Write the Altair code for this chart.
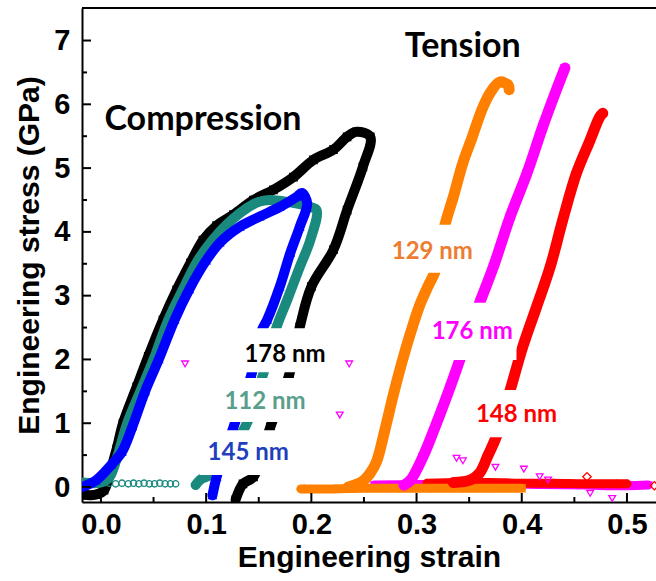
import altair as alt
import pandas as pd

# ---------------- data ----------------
# Compression, 178 nm (black squares)
black_x = [-0.018, -0.005, 0.003, 0.008, 0.015, 0.021, 0.034, 0.045, 0.059, 0.072, 0.085, 0.097,
           0.110, 0.126, 0.145, 0.164, 0.183, 0.202, 0.221, 0.234, 0.243, 0.256, 0.249, 0.234,
           0.221, 0.200, 0.189, 0.179, 0.161, 0.145, 0.135, 0.128]
black_y = [-0.12, -0.12, -0.05, 0.20, 0.60, 1.00, 1.57, 2.05, 2.62, 3.09, 3.51, 3.87,
           4.10, 4.27, 4.50, 4.66, 4.86, 5.13, 5.29, 5.49, 5.57, 5.49, 5.02, 4.34,
           3.72, 3.14, 2.51, 1.76, 0.94, 0.16, 0.05, -0.20]
# Compression, 112 nm (teal circles)
teal_x = [-0.018, 0.000, 0.008, 0.016, 0.025, 0.040, 0.050, 0.064, 0.078, 0.092, 0.106, 0.120,
          0.135, 0.150, 0.160, 0.177, 0.199, 0.205, 0.199, 0.189, 0.177, 0.167, 0.154, 0.137,
          0.105, 0.095, 0.090]
teal_y = [0.07, 0.07, 0.15, 0.50, 1.00, 1.60, 2.00, 2.62, 3.10, 3.55, 3.87, 4.12,
          4.33, 4.47, 4.50, 4.47, 4.39, 4.34, 3.87, 3.45, 2.93, 2.51, 1.76, 0.94,
          0.20, 0.12, 0.03]
teal_tail_x = [0.008, 0.014, 0.020, 0.026, 0.031, 0.036, 0.041, 0.046, 0.051, 0.056, 0.061, 0.066, 0.071]
teal_tail_y = [0.06, 0.05, 0.06, 0.05, 0.06, 0.05, 0.06, 0.05, 0.05, 0.06, 0.05, 0.05, 0.05]
# Compression, 145 nm (blue triangles)
blue_x = [-0.018, -0.005, 0.010, 0.020, 0.030, 0.042, 0.055, 0.070, 0.084, 0.100, 0.113, 0.132,
          0.151, 0.170, 0.186, 0.191, 0.196, 0.189, 0.180, 0.170, 0.158, 0.153, 0.143, 0.126,
          0.110, 0.106]
blue_y = [0.00, 0.10, 0.35, 0.55, 0.95, 1.50, 2.00, 2.62, 3.10, 3.55, 3.83, 4.08,
          4.24, 4.39, 4.55, 4.61, 4.45, 4.08, 3.67, 3.14, 2.62, 2.46, 1.76, 0.94,
          0.16, -0.13]

# Tension, 129 nm (orange)
orange_flat_x = [0.190, 0.220, 0.250, 0.280, 0.310, 0.340, 0.370, 0.400]
orange_flat_y = [-0.03, -0.03, -0.02, -0.02, -0.02, -0.02, -0.02, -0.02]
orange_x = [0.235, 0.248, 0.256, 0.262, 0.270, 0.278, 0.286, 0.294, 0.303, 0.311, 0.318, 0.327,
            0.335, 0.344, 0.353, 0.362, 0.370, 0.379, 0.387, 0.388]
orange_y = [0.00, 0.08, 0.22, 0.40, 0.90, 1.45, 1.95, 2.40, 2.85, 3.15, 3.40, 4.11,
            4.55, 5.08, 5.49, 5.91, 6.18, 6.35, 6.30, 6.23]
# Tension, 176 nm (magenta)
magenta_flat_x = [0.260, 0.300, 0.340, 0.380, 0.420, 0.460, 0.500, 0.520]
magenta_flat_y = [0.03, 0.04, 0.04, 0.05, 0.04, 0.03, 0.02, 0.03]
magenta_x = [0.288, 0.294, 0.306, 0.319, 0.332, 0.341, 0.350, 0.360, 0.373, 0.389, 0.405, 0.420,
             0.433, 0.441]
magenta_y = [0.03, 0.10, 0.47, 1.00, 1.57, 1.99, 2.45, 2.89, 3.45, 4.24, 4.92, 5.65, 6.23, 6.57]
magenta_out_x = [0.080, 0.236, 0.227, 0.338, 0.344, 0.375, 0.402, 0.417, 0.425, 0.465, 0.486]
magenta_out_y = [1.93, 1.93, 1.13, 0.45, 0.41, 0.31, 0.28, 0.16, 0.11, -0.10, -0.18]
# Tension, 148 nm (red)
red_flat_x = [0.310, 0.340, 0.370, 0.400, 0.430, 0.460, 0.490, 0.500]
red_flat_y = [0.06, 0.07, 0.07, 0.06, 0.06, 0.05, 0.05, 0.05]
red_x = [0.335, 0.351, 0.360, 0.368, 0.376, 0.389, 0.401, 0.414, 0.427, 0.439, 0.452, 0.465,
         0.474, 0.477]
red_y = [0.07, 0.11, 0.22, 0.50, 0.80, 1.52, 2.20, 2.82, 3.45, 4.19, 4.92, 5.44, 5.80, 5.86]
red_out_x = [0.462, 0.526]
red_out_y = [0.16, 0.02]

# labels and the white boxes behind them
label_text = ["178 nm", "112 nm", "145 nm", "129 nm", "176 nm", "148 nm"]
label_x = [0.175, 0.156, 0.140, 0.315, 0.353, 0.395]
label_y = [2.07, 1.33, 0.53, 3.69, 2.43, 1.13]
label_color = ["#000000", "#5a9e8c", "#1f3fbf", "#ed7d31", "#ff00ff", "#ff0000"]
box_x0 = [0.099, 0.099, 0.094, 0.273, 0.311, 0.354]
box_x1 = [0.227, 0.218, 0.208, 0.358, 0.395, 0.438]
box_y0 = [1.80, 1.02, 0.19, 3.36, 1.99, 0.78]
box_y1 = [2.49, 1.71, 0.89, 4.11, 2.89, 1.52]
head_text = ["Compression", "Tension"]
head_x = [0.097, 0.344]
head_y = [5.76, 6.90]

x_major = [0.0, 0.1, 0.2, 0.3, 0.4, 0.5]
x_minor = [0.05, 0.15, 0.25, 0.35, 0.45]
y_major = [0, 1, 2, 3, 4, 5, 6, 7]
y_minor = [0.5, 1.5, 2.5, 3.5, 4.5, 5.5, 6.5]

# ---------------- chart ----------------
W, H = 574, 494
XMIN, XMAX = -0.018, 0.5276
YMIN, YMAX = -0.235, 7.51
xs = alt.Scale(domain=[XMIN, XMAX], nice=False, zero=False)
ys = alt.Scale(domain=[YMIN, YMAX], nice=False, zero=False)
x_axis = alt.Axis(values=x_major, format=".1f", ticks=False, grid=False, labelPadding=8,
                  titlePadding=3)
y_axis = alt.Axis(values=y_major, format="d", ticks=False, grid=False, labelPadding=12,
                  titlePadding=9)
X_TITLE = "Engineering strain"
Y_TITLE = "Engineering stress (GPa)"


def X(field):
    return alt.X(field, scale=xs, axis=x_axis, title=X_TITLE)


def Y(field):
    return alt.Y(field, scale=ys, axis=y_axis, title=Y_TITLE)


def band(xv, yv, color, shape, size=55, line=True, width=10):
    df = pd.DataFrame({"x": xv, "y": yv, "o": list(range(len(xv)))})
    base = alt.Chart(df)
    out = []
    if line:
        out.append(base.mark_line(color=color, strokeWidth=width, strokeCap="round",
                                  strokeJoin="round", interpolate="catmull-rom", clip=True).encode(
            x=X("x:Q"), y=Y("y:Q"), order="o:Q"))
    out.append(base.mark_point(shape=shape, filled=False, color=color, size=size,
                               strokeWidth=1.3, opacity=1, clip=True).encode(
        x=X("x:Q"), y=Y("y:Q")))
    return out


layers = []
layers += band(magenta_flat_x, magenta_flat_y, "#ff00ff", "triangle-down", width=9)
layers += band(red_flat_x, red_flat_y, "#ff0000", "diamond", width=9)
layers += band(orange_flat_x, orange_flat_y, "#ff8000", "triangle-left", width=9)
layers += band(magenta_x, magenta_y, "#ff00ff", "triangle-down", width=11)
layers += band(red_x, red_y, "#ff0000", "diamond", width=11)
layers += band(orange_x, orange_y, "#ff8000", "triangle-left", width=11)
layers += band(black_x, black_y, "#000000", "square")
layers += band(teal_tail_x, teal_tail_y, "#1a8a7e", "circle", size=40, line=False)
layers += band(teal_x, teal_y, "#1a8a7e", "circle")
layers += band(blue_x, blue_y, "#0000ff", "triangle-up")
layers += band(magenta_out_x, magenta_out_y, "#ff00ff", "triangle-down", size=45, line=False)
layers += band(red_out_x, red_out_y, "#ff0000", "diamond", size=70, line=False)

boxes = pd.DataFrame({"x": box_x0, "x2": box_x1, "y": box_y0, "y2": box_y1})
layers.append(alt.Chart(boxes).mark_rect(color="white").encode(
    x=X("x:Q"), x2="x2:Q", y=Y("y:Q"), y2="y2:Q"))

labels = pd.DataFrame({"t": label_text, "x": label_x, "y": label_y, "c": label_color})
layers.append(alt.Chart(labels).mark_text(font="Lato", fontWeight="bold", fontSize=24,
                                          baseline="middle", align="center").encode(
    x=X("x:Q"), y=Y("y:Q"), text="t:N", color=alt.Color("c:N", scale=None)))

heads = pd.DataFrame({"t": head_text, "x": head_x, "y": head_y})
layers.append(alt.Chart(heads).mark_text(font="Lato", fontWeight="bold", fontSize=34,
                                         baseline="middle", align="center", color="black").encode(
    x=X("x:Q"), y=Y("y:Q"), text="t:N"))

# inward ticks
for vals, ln in [(x_major, 9), (x_minor, 5)]:
    layers.append(alt.Chart(pd.DataFrame({"v": vals})).mark_rule(color="black", strokeWidth=2).encode(
        x=X("v:Q"), y=alt.value(H), y2=alt.value(H - ln)))
for vals, ln in [(y_major, 9), (y_minor, 5)]:
    layers.append(alt.Chart(pd.DataFrame({"v": vals})).mark_rule(color="black", strokeWidth=2).encode(
        y=Y("v:Q"), x=alt.value(0), x2=alt.value(ln)))
# top frame line
layers.append(alt.Chart(pd.DataFrame({"v": [0]})).mark_rule(color="black", strokeWidth=2).encode(
    x=alt.value(0), x2=alt.value(W), y=alt.value(0)))

chart = alt.layer(*layers).properties(
    width=W, height=H,
    padding={"left": 82, "top": 8, "right": 0, "bottom": 79},
    autosize=alt.AutoSizeParams(type="none"),
    background="white",
).configure_view(stroke="transparent").configure_axis(
    domainColor="black", domainWidth=2,
    labelFont="Liberation Sans", labelFontWeight="bold", labelFontSize=29, labelColor="black",
    titleFont="Liberation Sans", titleFontWeight="bold", titleFontSize=30, titleColor="black",
)

chart.save("out.html", embed_options={"renderer": "svg", "actions": False})
